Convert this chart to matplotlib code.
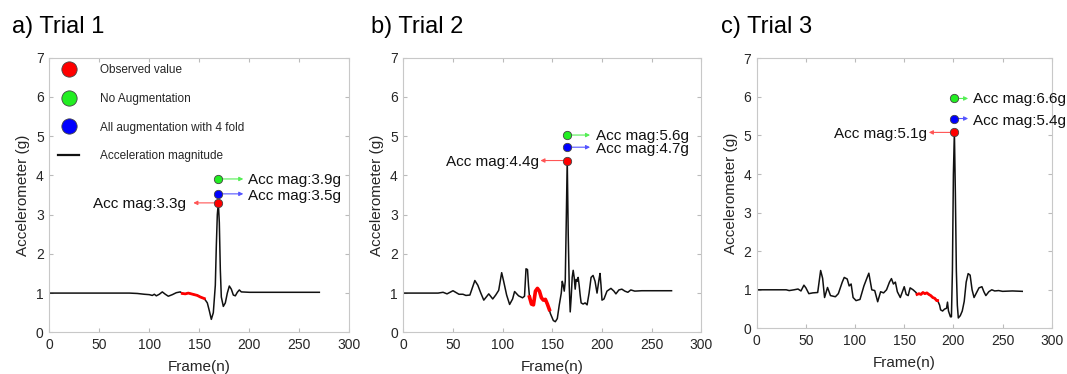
import matplotlib.pyplot as plt
from matplotlib.lines import Line2D
import numpy as np

plt.rcParams['font.family'] = ['Liberation Sans', 'DejaVu Sans']

# acceleration magnitude (frame, g)
t1_frame = [0, 20, 40, 60, 80, 88, 95, 100, 103, 105, 107, 110, 113, 116, 119, 123,
            127, 131, 133, 136, 139, 142, 145, 148, 151, 155, 158, 160, 162, 164, 166,
            167, 168, 169, 170, 171, 172, 174, 176, 178, 180, 182, 184, 186, 188, 190,
            192, 200, 220, 250, 270]
t1_acc = [1.0, 1.0, 1.0, 1.0, 1.0, 0.99, 0.97, 0.96, 0.94, 0.97, 0.93, 0.97, 1.03, 0.97,
          0.92, 0.96, 1.01, 1.03, 0.99, 0.98, 1.0, 0.98, 0.96, 0.94, 0.9, 0.86, 0.75, 0.55,
          0.33, 0.5, 1.2, 2.2, 3.0, 3.3, 2.8, 1.6, 0.9, 0.66, 0.75, 1.0, 1.18, 1.1, 0.95,
          0.93, 1.02, 1.08, 1.03, 1.02, 1.02, 1.02, 1.02]

t2_frame = [0, 20, 35, 40, 44, 50, 56, 60, 63, 67, 72, 75, 78, 81, 86, 90, 93, 96, 99,
            101, 104, 107, 110, 112, 116, 120, 122, 123.5, 125, 126, 127, 129, 131, 133,
            135, 137, 139, 141, 143, 145, 147, 148, 151, 153, 155, 157, 159, 160, 161,
            162, 163, 164, 165, 166, 167, 168, 169, 170, 171, 172, 173, 174, 175, 176,
            177, 178, 179, 181, 183, 185, 187, 189, 191, 193, 195, 197, 198, 199, 200,
            202, 205, 209, 212, 214, 217, 220, 223, 226, 229, 233, 240, 270]
t2_acc = [1.0, 1.0, 1.0, 1.02, 0.98, 1.06, 0.97, 0.97, 0.94, 0.95, 1.32, 1.2, 1.0, 0.82,
          0.98, 0.85, 0.95, 1.07, 1.52, 1.3, 0.95, 0.71, 0.85, 1.04, 0.93, 0.88, 0.92,
          1.62, 1.6, 1.2, 0.9, 0.72, 0.7, 1.05, 1.12, 1.05, 0.88, 0.82, 0.84, 0.72, 0.58,
          0.48, 0.3, 0.27, 0.35, 0.7, 1.0, 1.3, 1.2, 1.05, 1.3, 2.8, 4.4, 2.5, 1.2, 0.52,
          0.9, 1.4, 1.58, 1.4, 1.1, 1.35, 1.3, 1.4, 1.2, 0.95, 0.75, 0.72, 0.75, 0.7, 1.0,
          1.4, 1.45, 1.3, 1.0, 1.35, 1.5, 1.2, 0.82, 0.85, 1.05, 1.12, 1.05, 0.98, 1.08,
          1.1, 1.05, 1.02, 1.08, 1.05, 1.06, 1.06]

t3_frame = [0, 15, 30, 33, 38, 42, 45, 48, 50, 53, 57, 62, 65, 67, 69, 72, 75, 80, 83,
            87, 89, 92, 94, 96, 98, 101, 105, 109, 112, 114, 117, 120, 123, 126, 129,
            132, 135, 137, 139, 141, 143, 146, 150, 152, 154, 156, 159, 162, 163, 165,
            167, 169, 171, 173, 175, 177, 179, 181, 183, 184, 186, 187, 189, 191, 193,
            194, 195, 197, 198, 199, 200, 201, 202, 203, 204, 205, 207, 209, 211, 213,
            215, 217, 219, 221, 223, 226, 229, 231, 233, 236, 239, 242, 246, 250, 260, 270]
t3_acc = [1.0, 1.0, 1.0, 0.98, 1.0, 1.02, 0.97, 1.12, 1.05, 0.9, 0.92, 0.93, 1.5, 1.3,
          0.8, 1.06, 0.85, 0.82, 0.9, 1.2, 1.32, 1.28, 1.1, 1.15, 0.8, 0.72, 0.75, 1.1,
          1.3, 1.43, 1.0, 0.98, 0.69, 0.95, 0.92, 1.0, 1.2, 1.29, 1.15, 1.2, 0.95, 0.8,
          1.08, 0.88, 0.85, 1.05, 1.0, 0.93, 0.88, 0.9, 0.88, 0.93, 0.9, 0.92, 0.88, 0.85,
          0.8, 0.78, 0.72, 0.72, 0.6, 0.48, 0.45, 0.5, 0.52, 0.68, 0.45, 0.3, 0.3, 1.5,
          4.0, 5.1, 3.5, 1.5, 0.6, 0.27, 0.33, 0.45, 0.7, 1.2, 1.42, 1.38, 1.0, 0.8, 0.9,
          1.05, 1.08, 0.95, 0.85, 0.95, 1.0, 0.97, 0.98, 0.96, 0.97, 0.96]

titles = ['a) Trial 1', 'b) Trial 2', 'c) Trial 3']
frames = [t1_frame, t2_frame, t3_frame]
accs = [t1_acc, t2_acc, t3_acc]
observed_range = [(133, 155), (127, 147), (163, 184)]  # red part of the trace
peak_frame = [169, 165, 201]
observed_y = [3.3, 4.38, 5.08]
noaug_y = [3.91, 5.03, 5.96]
allaug_y = [3.53, 4.72, 5.44]
observed_lbl = [3.3, 4.4, 5.1]
noaug_lbl = [3.9, 5.6, 6.6]
allaug_lbl = [3.5, 4.7, 5.4]

RED, GREEN, BLUE = '#ff0000', '#22ee22', '#0000ff'
EDGE = '#444444'

fig = plt.figure(figsize=(10.67, 3.74), dpi=100)
pos = [[0.0462, 0.1115, 0.2812, 0.734],
       [0.378, 0.1115, 0.2793, 0.734],
       [0.7092, 0.122, 0.2765, 0.722]]
title_x = [0.011, 0.348, 0.676]
# arrow end / text start offsets (frames) right and left of the peak
right_arrow = [25, 23, 14]
right_text = [30, 29, 19]
left_arrow = [25, 27, 26]
left_text = [32, 28, 28]

for i in range(3):
    ax = fig.add_axes(pos[i])
    f = np.array(frames[i])
    a = np.array(accs[i])
    ax.plot(f, a, color='#111111', lw=1.1, zorder=2)
    lo, hi = observed_range[i]
    m = (f >= lo) & (f <= hi)
    ax.plot(f[m], a[m], color=RED, lw=2.6 if i == 1 else 2.0, zorder=3)

    px = peak_frame[i]
    for yv, c in [(noaug_y[i], GREEN), (allaug_y[i], BLUE), (observed_y[i], RED)]:
        ax.plot(px, yv, 'o', ms=6, mfc=c, mec=EDGE, mew=0.6, zorder=5)

    arr = dict(arrowstyle='-|>', lw=0.8, mutation_scale=6, shrinkA=0, shrinkB=0)
    ax.annotate('', xy=(px + right_arrow[i], noaug_y[i]), xytext=(px + 3.5, noaug_y[i]),
                arrowprops=dict(color='#55ee55', **arr))
    ax.annotate('', xy=(px + right_arrow[i], allaug_y[i]), xytext=(px + 3.5, allaug_y[i]),
                arrowprops=dict(color='#5555ff', **arr))
    ax.annotate('', xy=(px - left_arrow[i], observed_y[i]), xytext=(px - 3.5, observed_y[i]),
                arrowprops=dict(color='#ff5555', **arr))
    txt = dict(fontsize=11, va='baseline', color='#111111', textcoords='offset points')
    ax.annotate('Acc mag:%.1fg' % noaug_lbl[i], (px + right_text[i], noaug_y[i]),
                xytext=(0, -3.5), ha='left', **txt)
    ax.annotate('Acc mag:%.1fg' % allaug_lbl[i], (px + right_text[i], allaug_y[i]),
                xytext=(0, -4.5), ha='left', **txt)
    ax.annotate('Acc mag:%.1fg' % observed_lbl[i], (px - left_text[i], observed_y[i]),
                xytext=(0, -4), ha='right', **txt)

    ax.set_xlim(0, 300)
    ax.set_ylim(0, 7)
    ax.set_xticks(np.arange(0, 301, 50))
    ax.set_yticks(np.arange(0, 8, 1))
    ax.tick_params(direction='in', length=3, top=True, right=True, labelsize=10,
                   colors='#bbbbbb', labelcolor='#262626', pad=4)
    for s in ax.spines.values():
        s.set_color('#c8c8c8')
        s.set_linewidth(0.8)
    ax.set_xlabel('Frame(n)', fontsize=11, color='#262626', labelpad=6)
    ax.set_ylabel('Accelerometer (g)', fontsize=11, color='#262626', labelpad=4)
    fig.text(title_x[i], 0.912, titles[i], fontsize=17, ha='left', va='baseline')

    if i == 0:
        handles = [Line2D([], [], ls='none', marker='o', ms=11, mfc=RED, mec=EDGE, mew=0.6),
                   Line2D([], [], ls='none', marker='o', ms=11, mfc=GREEN, mec=EDGE, mew=0.6),
                   Line2D([], [], ls='none', marker='o', ms=11, mfc=BLUE, mec=EDGE, mew=0.6),
                   Line2D([], [], color='#111111', lw=1.6)]
        labels = ['Observed value', 'No Augmentation', 'All augmentation with 4 fold',
                  'Acceleration magnitude']
        ax.legend(handles, labels, loc='upper left', bbox_to_anchor=(0.012, 0.995),
                  frameon=False, fontsize=8.5, handlelength=1.8, handletextpad=1.7,
                  labelspacing=1.4, borderaxespad=0.05, labelcolor='#262626')

fig.savefig('out.png', dpi=100)
